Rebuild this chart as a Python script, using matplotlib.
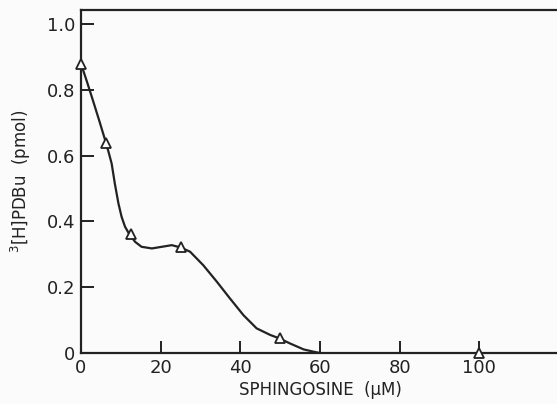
import numpy as np
import matplotlib.pyplot as plt

# measured points (triangles)
conc = [0, 6.25, 12.5, 25, 50, 100]
pdbu = [0.88, 0.64, 0.362, 0.321, 0.045, 0.0]

# hand-drawn smooth curve
curve_x = [0, 1.5, 3, 4.6, 6.25, 7.0, 7.7, 8.5, 9.4, 10.2, 11.06, 12.1, 13.6, 15.2,
           17.8, 20.3, 22.8, 25, 27.4, 30.7, 34.1, 37.4, 40.8, 44.1, 47.5, 49.7,
           52.5, 55.9, 58.4, 60]
curve_y = [0.88, 0.825, 0.768, 0.706, 0.64, 0.608, 0.576, 0.515, 0.455, 0.414, 0.384,
           0.362, 0.338, 0.323, 0.318, 0.323, 0.328, 0.321, 0.308, 0.267, 0.217, 0.166,
           0.115, 0.075, 0.055, 0.045, 0.029, 0.011, 0.004, 0.0]

plt.rcParams['font.family'] = ['DejaVu Sans']
ink = '#222222'

fig = plt.figure(figsize=(5.57, 4.04), dpi=100)
fig.patch.set_facecolor('#fbfbfb')
ax = fig.add_axes([0.1454, 0.1262, 0.858, 0.849])
ax.set_facecolor('#fbfbfb')

ax.plot(curve_x, curve_y, color=ink, lw=1.6, zorder=2, solid_joinstyle='round')
ax.plot(conc, pdbu, linestyle='none', marker='^', markersize=7,
        markerfacecolor='white', markeredgecolor=ink, markeredgewidth=1.3, zorder=3, clip_on=False)

ax.set_xlim(0, 120)
ax.set_ylim(0, 1.043)
ax.set_xticks([0, 20, 40, 60, 80, 100])
ax.set_xticklabels(['0', '20', '40', '60', '80', '100'])
ax.set_yticks([0, 0.2, 0.4, 0.6, 0.8, 1.0])
ax.set_yticklabels(['0', '0.2', '0.4', '0.6', '0.8', '1.0'])

ax.spines['right'].set_visible(False)
for s in ['left', 'bottom', 'top']:
    ax.spines[s].set_linewidth(1.6)
    ax.spines[s].set_color(ink)

ax.tick_params(direction='in', length=9, width=1.4, colors=ink, labelsize=13, pad=4)

ax.set_xlabel('SPHINGOSINE  (\u03bcM)', fontsize=12, color=ink, labelpad=3)
ax.set_ylabel('$^{3}$[H]PDBu  (pmol)', fontsize=12, color=ink, labelpad=10)

fig.savefig('out.png', dpi=100, facecolor=fig.get_facecolor())
